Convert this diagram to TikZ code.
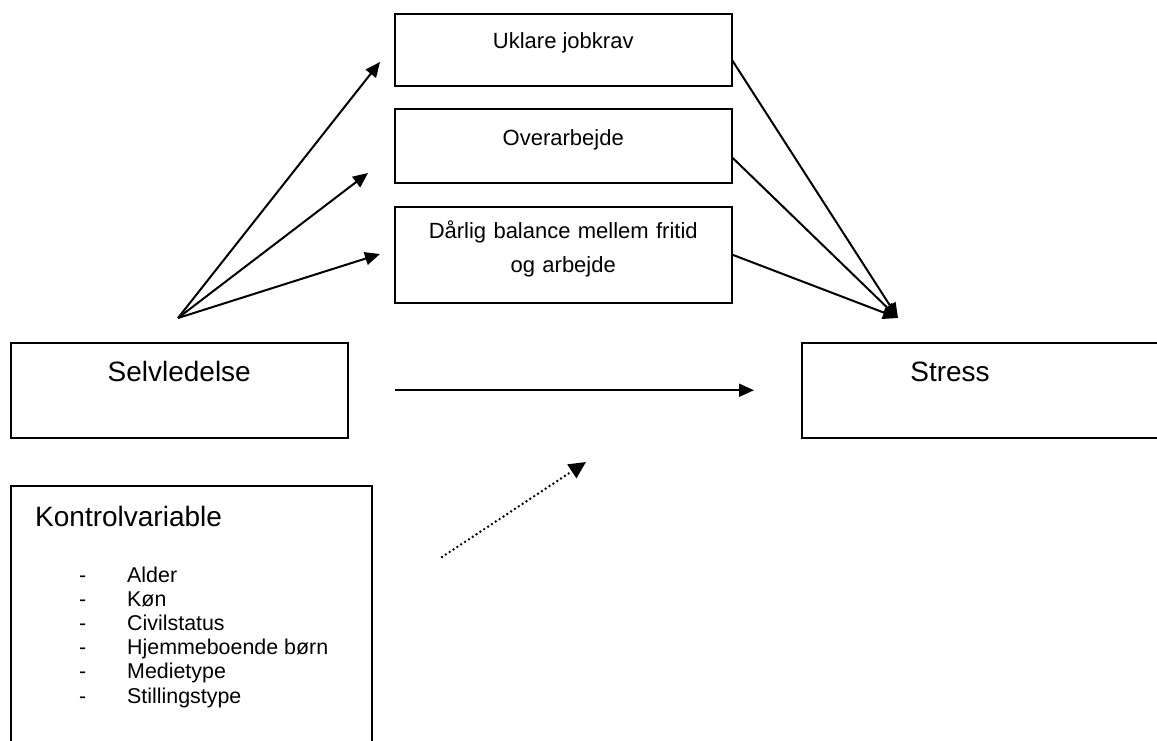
\documentclass[tikz,border=0pt]{standalone}
\usepackage{fontspec}
\setmainfont{Liberation Sans}
\usetikzlibrary{arrows.meta}

\begin{document}
\begin{tikzpicture}[x=1pt, y=-1pt,
	boks/.style={draw, line width=1.5pt, inner sep=0pt, anchor=north west, minimum width=337pt},
	mellemtekst/.style={font=\fontsize{22}{34}\selectfont},
	stortekst/.style={font=\fontsize{28}{34}\selectfont},
	punkttekst/.style={font=\fontsize{21.4}{24}\selectfont, anchor=base west, inner sep=0pt},
	pil/.style={-{Triangle[length=15pt,width=13pt]}, line width=2pt},
	prikpil/.style={-{Triangle[length=17pt,width=16pt]}, line width=2.7pt, line cap=round, dash pattern=on 0pt off 4.6pt}]
	\useasboundingbox (0,0) rectangle (1157,740);
	\node[boks, mellemtekst, minimum height=72pt, text height=35pt, text depth=37pt] (uklare) at (394,13) {Uklare jobkrav};
	\node[boks, mellemtekst, minimum height=74pt, text height=37pt, text depth=37pt] (overarbejde) at (394,108) {Overarbejde};
	\node[boks, mellemtekst, text width=337pt, align=center, text height=32pt, text depth=64pt] (balance) at (394,206) {Dårlig balance mellem fritid\\og arbejde};
	\node[boks, stortekst, minimum height=95pt, text height=39pt, text depth=56pt] (selvledelse) at (10,342) {Selvledelse};
	\node[boks, minimum width=400pt, minimum height=95pt] (stress) at (801,342) {};
	\node[stortekst, anchor=base] (stresstekst) at (950,381) {Stress};
	\node[boks, minimum width=361pt, minimum height=280pt] (kontrol) at (10,485) {};
	\node[stortekst, anchor=base west, inner sep=0pt] (kontroltitel) at (35,526) {Kontrolvariable};
	\foreach \punkt [count=\i] in {Alder, Køn, Civilstatus, Hjemmeboende børn, Medietype, Stillingstype} {
		\node[punkttekst] (streg\i) at (79,{557.8+24.2*\i}) {-};
		\node[punkttekst] (punkt\i) at (127,{557.8+24.2*\i}) {\punkt};
	}
	\coordinate (kilde) at (178,318);
	\coordinate (maal) at (898,318);
	\coordinate (tiluklare) at (380,62);
	\coordinate (tiloverarbejde) at (368,173);
	\coordinate (tilbalance) at (380,254);
	\coordinate (prikstart) at (442,557);
	\coordinate (prikslut) at (586,462);
	\draw[pil] (kilde) -- (tiluklare);
	\draw[pil] (kilde) -- (tiloverarbejde);
	\draw[pil] (kilde) -- (tilbalance);
	\draw[pil] ([yshift=-11pt]uklare.east) -- (maal);
	\draw[pil] ([yshift=-12pt]overarbejde.east) -- (maal);
	\draw[pil] (balance.east) -- (maal);
	\draw[pil] ([xshift=46pt]selvledelse.east) -- ([xshift=-47pt]stress.west);
	\draw[prikpil] (prikstart) -- (prikslut);
\end{tikzpicture}
\end{document}
